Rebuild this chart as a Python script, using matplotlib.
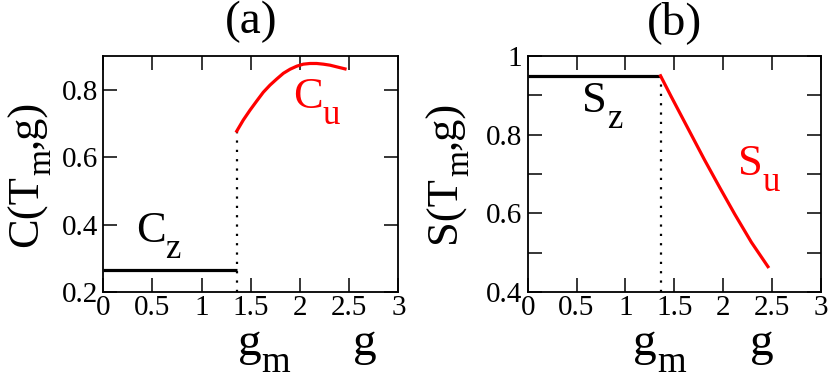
import matplotlib
matplotlib.use("Agg")
import matplotlib.pyplot as plt

plt.rcParams['font.family'] = ['Liberation Serif', 'DejaVu Serif']

# ---- data ----
g_m = 1.36
g_zero = [0.0, 1.36]
C_z = [0.267, 0.267]
g_cu = [1.357, 1.424, 1.492, 1.560, 1.627, 1.695, 1.763, 1.831, 1.899,
        1.967, 2.034, 2.102, 2.170, 2.237, 2.305, 2.374, 2.458]
C_u = [0.677, 0.710, 0.739, 0.766, 0.792, 0.813, 0.831, 0.848, 0.860,
       0.869, 0.875, 0.877, 0.877, 0.875, 0.872, 0.867, 0.861]
S_z = [0.949, 0.949]
g_su = [1.36, 1.47, 1.64, 1.81, 1.97, 2.12, 2.29, 2.46]
S_u = [0.949, 0.896, 0.816, 0.736, 0.664, 0.598, 0.527, 0.465]

x_ticks = [0, 0.5, 1, 1.5, 2, 2.5, 3]
x_ticklabels = ['0', '0.5', '1', '1.5', '2', '2.5', '3']
ya_ticks = [0.2, 0.4, 0.6, 0.8]
ya_ticklabels = ['0.2', '0.4', '0.6', '0.8']
yb_ticks = [0.4, 0.5, 0.6, 0.7, 0.8, 0.9, 1.0]
yb_ticklabels = ['0.4', '', '0.6', '', '0.8', '', '1']

FAM = ['Liberation Serif', 'DejaVu Serif']
fig = plt.figure(figsize=(8.3, 3.8), dpi=100)
axa = fig.add_axes([0.1245, 0.2308, 0.3554, 0.6226])
axb = fig.add_axes([0.6358, 0.2308, 0.3530, 0.6226])
renderer = fig.canvas.get_renderer()

BIG = 34
YLAB = 32
ANN = 32
TICK = 21


def compose(ax, x, y, parts, transform, rotation=0, color='black'):
    """Draw a run of text pieces; each piece is (text, size, drop_in_points)."""
    offset = 0.0
    for s, size, drop in parts:
        off = (offset, -drop) if rotation == 0 else (drop, offset)
        t = ax.annotate(s, xy=(x, y), xycoords=transform, xytext=off,
                        textcoords='offset points', fontsize=size, family=FAM,
                        color=color, rotation=rotation, rotation_mode='anchor',
                        ha='left', va='baseline', annotation_clip=False)
        bb = t.get_window_extent(renderer)
        adv = (bb.width if rotation == 0 else bb.height) * 72.0 / fig.dpi
        offset += adv


def sub_label(ax, x, y, main, sub, size, transform, color='black', rest=None,
              rotation=0, sub_scale=0.78, drop_scale=0.36):
    parts = [(main, size, 0), (sub, size * sub_scale, size * drop_scale)]
    if rest:
        parts.append((rest, size, 0))
    compose(ax, x, y, parts, transform, rotation=rotation, color=color)


def style(ax, yt, ytl, ylim):
    ax.set_xlim(0, 3)
    ax.set_ylim(*ylim)
    ax.set_xticks(x_ticks)
    ax.set_xticklabels(x_ticklabels, family=FAM)
    ax.set_yticks(yt)
    ax.set_yticklabels(ytl, family=FAM)
    ax.tick_params(direction='in', length=10, width=1.1, top=True, right=True,
                   labelsize=TICK, pad=2)
    ax.tick_params(axis='y', pad=4)
    for s in ax.spines.values():
        s.set_linewidth(1.3)


# panel a
axa.plot(g_zero, C_z, color='black', lw=2.3, solid_capstyle='butt')
axa.plot([g_m, g_m], [0.2, C_u[0]], color='black', lw=1.6, linestyle=(0, (1, 3.2)))
axa.plot(g_cu, C_u, color='red', lw=2.3)
style(axa, ya_ticks, ya_ticklabels, (0.2, 0.9))
sub_label(axa, 0.33, 0.348, 'C', 'z', ANN, axa.transData)
sub_label(axa, 1.93, 0.745, 'C', 'u', ANN, axa.transData, color='red')
axa.text(1.5, 1.142, '(a)', fontsize=BIG, ha='center', va='center', family=FAM,
         transform=axa.get_xaxis_transform())
sub_label(axa, 1.37, -0.265, 'g', 'm', BIG, axa.get_xaxis_transform())
axa.text(2.54, -0.265, 'g', fontsize=BIG, ha='left', va='baseline', family=FAM,
         transform=axa.get_xaxis_transform())
sub_label(axa, 38 / 830, 1 - 247 / 380, 'C(T', 'm', YLAB, fig.transFigure,
          rest=',g)', rotation=90, sub_scale=0.75, drop_scale=0.28)

# panel b
axb.plot(g_zero, S_z, color='black', lw=2.3, solid_capstyle='butt')
axb.plot([g_m, g_m], [0.4, S_z[0]], color='black', lw=1.6, linestyle=(0, (1, 3.2)))
axb.plot(g_su, S_u, color='red', lw=2.3)
style(axb, yb_ticks, yb_ticklabels, (0.4, 1.0))
sub_label(axb, 0.56, 0.858, 'S', 'z', ANN, axb.transData)
sub_label(axb, 2.15, 0.698, 'S', 'u', ANN, axb.transData, color='red')
axb.text(1.5, 1.142, '(b)', fontsize=BIG, ha='center', va='center', family=FAM,
         transform=axb.get_xaxis_transform())
sub_label(axb, 1.08, -0.265, 'g', 'm', BIG, axb.get_xaxis_transform())
axb.text(2.28, -0.265, 'g', fontsize=BIG, ha='left', va='baseline', family=FAM,
         transform=axb.get_xaxis_transform())
sub_label(axb, 456 / 830, 1 - 243 / 380, 'S(T', 'm', YLAB, fig.transFigure,
          rest=',g)', rotation=90, sub_scale=0.75, drop_scale=0.28)

fig.savefig('out.png', dpi=100)
